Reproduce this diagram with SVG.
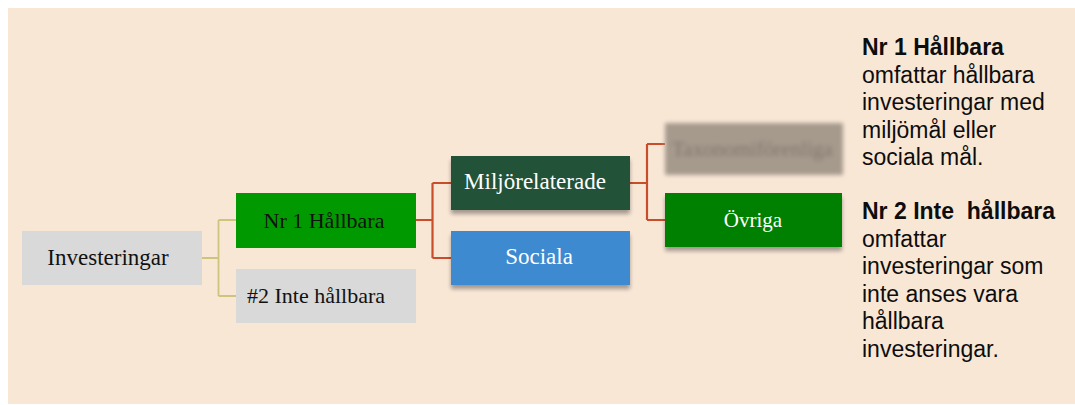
<svg xmlns="http://www.w3.org/2000/svg" width="1075" height="405" viewBox="0 0 1075 405">
  <defs>
    <filter id="shadow" x="-10%" y="-20%" width="120%" height="160%">
      <feGaussianBlur in="SourceAlpha" stdDeviation="2"/>
      <feOffset dx="0" dy="4" result="b"/>
      <feComponentTransfer><feFuncA type="linear" slope="0.35"/></feComponentTransfer>
      <feMerge><feMergeNode/><feMergeNode in="SourceGraphic"/></feMerge>
    </filter>
    <filter id="blur" x="-10%" y="-30%" width="120%" height="160%">
      <feGaussianBlur stdDeviation="2.2"/>
    </filter>
  </defs>
  <style>
    .node-text { font-family: "Liberation Serif", "Times New Roman", serif; }
    .side { font-family: "Liberation Sans", Arial, sans-serif; font-size: 23px; fill: #0d0d0d; }
    .bold { font-weight: bold; }
    .yel { fill: none; stroke: #CFC47E; stroke-width: 1.8; }
    .red { fill: none; stroke: #C84E2B; stroke-width: 2.2; }
  </style>
  <rect x="8" y="8" width="1067" height="396" fill="#F9E7D6"/>

  <g id="connectors">
    <path class="yel" d="M202,258 H218.5 M218.5,220 V296 M218.5,220 H236 M218.5,296 H236"/>
    <path class="red" d="M416,220 H432.5 M432.5,183 V258 M432.5,183 H451 M432.5,258 H451"/>
    <path class="red" d="M630,183 H647 M647,144 V220 M647,144 H665 M647,220 H665"/>
  </g>

  <g id="node-investeringar">
    <rect x="22" y="231" width="180" height="54" fill="#D9D9D9"/>
    <text class="node-text" x="108" y="265" font-size="23" text-anchor="middle" fill="#111">Investeringar</text>
  </g>
  <g id="node-nr1">
    <rect x="236" y="193" width="180" height="55" fill="#009900"/>
    <text class="node-text" x="324" y="228" font-size="22" text-anchor="middle" fill="#111">Nr 1 Hållbara</text>
  </g>
  <g id="node-nr2">
    <rect x="236" y="269" width="180" height="54" fill="#D9D9D9"/>
    <text class="node-text" x="247" y="303" font-size="22" fill="#111">#2 Inte hållbara</text>
  </g>
  <g id="node-miljo">
    <rect x="451" y="156" width="179" height="54" fill="#235339" filter="url(#shadow)"/>
    <text class="node-text" x="535" y="189" font-size="23" text-anchor="middle" fill="#FFFFFF">Miljörelaterade</text>
  </g>
  <g id="node-sociala">
    <rect x="451" y="231" width="179" height="54" fill="#3E8AD0" filter="url(#shadow)"/>
    <text class="node-text" x="539" y="264" font-size="23" text-anchor="middle" fill="#FFFFFF">Sociala</text>
  </g>
  <g id="node-taxonomi">
    <g filter="url(#blur)">
      <rect x="665" y="123" width="178" height="52" fill="#A69A8D"/>
      <text class="node-text" x="672" y="156" font-size="21" fill="#7E7368">Taxonomiförenliga</text>
    </g>
  </g>
  <g id="node-ovriga">
    <rect x="665" y="193" width="177" height="54" fill="#008000" filter="url(#shadow)"/>
    <text class="node-text" x="753" y="227" font-size="21" text-anchor="middle" fill="#FFFFFF">Övriga</text>
  </g>

  <g id="legend">
    <text class="side bold" x="862" y="55">Nr 1 Hållbara</text>
    <text class="side" x="862" y="82.6">omfattar hållbara</text>
    <text class="side" x="862" y="110.2">investeringar med</text>
    <text class="side" x="862" y="137.8">miljömål eller</text>
    <text class="side" x="862" y="165.4">sociala mål.</text>
    <text class="side bold" x="862" y="219" xml:space="preserve">Nr 2 Inte  hållbara</text>
    <text class="side" x="862" y="246.6">omfattar</text>
    <text class="side" x="862" y="274.2">investeringar som</text>
    <text class="side" x="862" y="301.8">inte anses vara</text>
    <text class="side" x="862" y="329.4">hållbara</text>
    <text class="side" x="862" y="357">investeringar.</text>
  </g>
</svg>
